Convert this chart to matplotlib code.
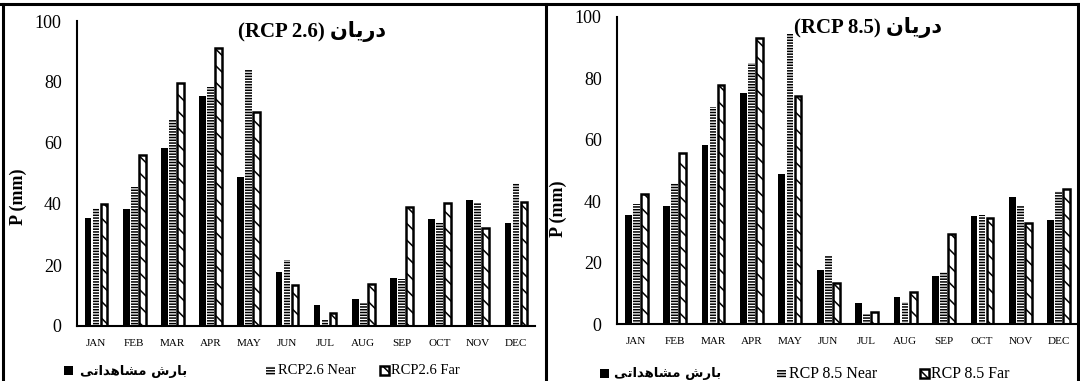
import numpy as np
import matplotlib
matplotlib.use("Agg")
import matplotlib.pyplot as plt
from matplotlib.patches import Rectangle
from matplotlib.lines import Line2D

# Monthly precipitation (mm)
months = ["JAN", "FEB", "MAR", "APR", "MAY", "JUN",
          "JUL", "AUG", "SEP", "OCT", "NOV", "DEC"]
observed = [35.5, 38.5, 58.2, 75.3, 49.0, 17.8, 6.9, 8.8, 15.7, 35.2, 41.4, 33.9]
rcp26_near = [38.8, 45.7, 68.0, 78.5, 83.9, 21.6, 2.2, 7.4, 15.3, 33.9, 40.2, 46.8]
rcp26_far = [39.9, 56.2, 79.8, 91.0, 70.1, 13.4, 4.2, 13.9, 38.9, 40.4, 32.2, 40.7]
rcp85_near = [39.0, 45.8, 70.8, 85.0, 94.3, 22.5, 3.3, 7.2, 17.1, 35.5, 38.5, 43.3]
rcp85_far = [42.5, 55.6, 77.7, 93.1, 74.3, 13.5, 4.0, 10.6, 29.4, 34.5, 32.8, 44.1]
yticks = [0, 20, 40, 60, 80, 100]

# Persian strings in presentation forms, laid out left to right
station = "\uFEE5\uFE8E\uFEF3\uFEAD\uFEA9"
observed_label = ("\uFEF0\uFE97\uFE8D\uFEAA\uFEEB\uFE8E\uFEB8\uFEE3 "
                  "\uFEB5\uFEAD\uFE8E\uFE91")

W, H = 1080, 381
SERIF = "Liberation Serif"
NEAR_HATCH = "------"
FAR_HATCH = "\\\\"
plt.rcParams["hatch.linewidth"] = 1.1

fig = plt.figure(figsize=(W / 100, H / 100), dpi=100)


def fx(x):
    return x / W


def fy(y):
    return 1 - y / H


def add_axes_px(x0, y_top, x1, y_bottom):
    return fig.add_axes([fx(x0), fy(y_bottom), (x1 - x0) / W, (y_bottom - y_top) / H])


def draw_panel(ax, near, far, label_xy):
    x = np.arange(len(months))
    w = 0.175
    ax.bar(x - 0.21, observed, w, color="black", lw=0)
    ax.bar(x, near, w, facecolor="white", edgecolor="black", hatch=NEAR_HATCH, lw=0)
    ax.bar(x + 0.21, far, w, facecolor="white", edgecolor="black",
           hatch=FAR_HATCH, lw=1.8)
    ax.set_xlim(-0.5, 11.5)
    ax.set_ylim(0, 100)
    ax.set_yticks(yticks)
    ax.set_xticks(x)
    ax.set_xticklabels(months, fontfamily=SERIF, fontsize=8)
    ax.set_yticklabels([str(v) for v in yticks], fontfamily=SERIF, fontsize=13)
    ax.tick_params(axis="both", length=0)
    ax.tick_params(axis="y", pad=11)
    ax.tick_params(axis="x", pad=9)
    for s in ("top", "right"):
        ax.spines[s].set_visible(False)
    for s in ("left", "bottom"):
        ax.spines[s].set_linewidth(1.5)
    ax.set_ylabel("P (mm)", fontfamily=SERIF, fontweight="bold", fontsize=13)
    ax.yaxis.set_label_coords(*label_xy)


def legend_row(y, items):
    # items: (marker_x, kind, text_x, text, family, size, weight)
    for mx, kind, tx, text, fam, size, weight in items:
        if kind == "obs":
            fig.add_artist(Rectangle((fx(mx), fy(y + 4)), 9 / W, 9 / H,
                                     transform=fig.transFigure, color="black", lw=0))
        elif kind == "near":
            fig.add_artist(Rectangle((fx(mx), fy(y + 4)), 9 / W, 9 / H,
                                     transform=fig.transFigure, facecolor="white",
                                     edgecolor="black", hatch=NEAR_HATCH, lw=0))
        else:
            fig.add_artist(Rectangle((fx(mx), fy(y + 4)), 9 / W, 9 / H,
                                     transform=fig.transFigure, facecolor="white",
                                     edgecolor="black", hatch=FAR_HATCH, lw=1.8))
        fig.text(fx(tx), fy(y), text, family=fam, fontsize=size, fontweight=weight,
                 ha="left", va="center")


# left panel: RCP 2.6
ax1 = add_axes_px(77, 21, 535, 326)
draw_panel(ax1, rcp26_near, rcp26_far, (-0.109, 0.423))
fig.text(fx(312), fy(32), "(RCP 2.6) " + station, family=[SERIF, "DejaVu Sans"],
         fontweight="bold", fontsize=15, ha="center", va="center")
legend_row(371, [
    (64, "obs", 80, observed_label, "DejaVu Sans", 9.5, "bold"),
    (266, "near", 278, "RCP2.6 Near", SERIF, 10.5, "normal"),
    (380, "far", 391, "RCP2.6 Far", SERIF, 10.5, "normal"),
])

# right panel: RCP 8.5
ax2 = add_axes_px(617, 16.7, 1078, 324.3)
draw_panel(ax2, rcp85_near, rcp85_far, (-0.108, 0.375))
fig.text(fx(868), fy(28), "(RCP 8.5) " + station, family=[SERIF, "DejaVu Sans"],
         fontweight="bold", fontsize=15, ha="center", va="center")
legend_row(374, [
    (600, "obs", 614, observed_label, "DejaVu Sans", 9.5, "bold"),
    (777, "near", 789, "RCP 8.5 Near", SERIF, 11.5, "normal"),
    (920, "far", 931, "RCP 8.5 Far", SERIF, 11.5, "normal"),
])

# panel frames
for xs, ys in [([0, W], [4, 4]), ([3, 3], [4, H]), ([546, 546], [4, H]),
               ([1078, 1078], [4, H])]:
    fig.add_artist(Line2D([fx(v) for v in xs], [fy(v) for v in ys],
                          transform=fig.transFigure, color="black", lw=2.2))

fig.savefig("out.png", dpi=100)
